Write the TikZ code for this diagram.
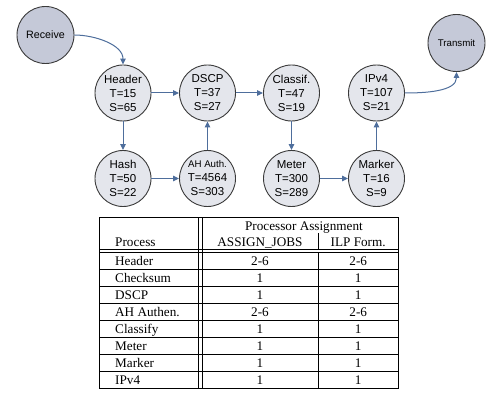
\documentclass[tikz,border=0pt]{standalone}
\usepackage{fontspec}
\setmainfont{Liberation Serif}
\newfontfamily\nodefont{Liberation Sans}
\usetikzlibrary{arrows.meta}
\definecolor{circfill}{HTML}{E4E6EC}
\definecolor{termfill}{HTML}{C5C9D8}
\definecolor{circline}{HTML}{3A3A3A}
\definecolor{arrowcol}{HTML}{4E6E9C}
\begin{document}
\begin{tikzpicture}[x=1pt,y=-1pt,
  proc/.style={circle, draw=circline, fill=circfill, line width=0.9pt, minimum size=56pt, inner sep=0pt, align=center, font=\nodefont\fontsize{11.5}{14}\selectfont},
  term/.style={proc, fill=termfill, minimum size=57pt},
  flow/.style={draw=arrowcol, line width=1pt, -{Triangle[length=6pt,width=5.5pt]}},
  tline/.style={line width=0.6pt},
  cell/.style={font=\fontsize{13.2}{15}\selectfont, inner sep=0pt, anchor=base},
  lcell/.style={cell, anchor=base west}]
\useasboundingbox (0,0) rectangle (490,393);
% nodes
\node[term, font=\nodefont\fontsize{10.7}{13}\selectfont] (rec) at (45.5,35) {Receive};
\node[term, font=\nodefont\fontsize{9.7}{12}\selectfont] (tx) at (456.5,43) {Transmit};
\node[proc] (hdr) at (123,93) {Header\\T=15\\S=65};
\node[proc] (dscp) at (207.5,93) {DSCP\\T=37\\S=27};
\node[proc] (cls) at (291.5,93) {Classif.\\T=47\\S=19};
\node[proc] (ipv) at (376.5,93) {IPv4\\T=107\\S=21};
\node[proc] (hash) at (123,178.5) {Hash\\T=50\\S=22};
\node[proc] (ah) at (207.5,178.5) {{\fontsize{9.7}{14}\selectfont AH Auth.}\\T=4564\\S=303};
\node[proc] (met) at (291.5,178.5) {Meter\\T=300\\S=289};
\node[proc] (mrk) at (376.5,178.5) {Marker\\T=16\\S=9};
% connectors
\draw[flow] (rec.east) to[out=0,in=90,looseness=0.9] (hdr.north);
\draw[flow] (hdr) -- (dscp);
\draw[flow] (dscp) -- (cls);
\draw[flow] (hdr) -- (hash);
\draw[flow] (hash) -- (ah);
\draw[flow] (ah) -- (dscp);
\draw[flow] (cls) -- (met);
\draw[flow] (met) -- (mrk);
\draw[flow] (mrk) -- (ipv);
\draw[flow] (ipv.east) to[out=0,in=-90,looseness=0.9] (tx.south);
% table
\draw[tline] (99.7,217.3) rectangle (398,388.3);
\draw[tline] (198.3,217.3) -- (198.3,388.3);
\draw[tline] (201.8,217.3) -- (201.8,388.3);
\draw[tline] (318.5,233) -- (318.5,249.3);
\draw[tline] (318.5,252.5) -- (318.5,388.3);
\draw[tline] (99.7,249.3) -- (398,249.3);
\draw[tline] (99.7,252.5) -- (398,252.5);
\foreach \y in {269.5,286.4,303.3,320.3,337.2,354.2,371.2} \draw[tline] (99.7,\y) -- (398,\y);
\node[cell] (pa) at (304,230) {Processor Assignment};
\node[lcell] (ph) at (115,246) {Process};
\node[cell] (aj) at (260,246) {ASSIGN\_JOBS};
\node[cell] (ilp) at (358.2,246) {ILP Form.};
\foreach \n/\p/\a/\b [count=\i] in {hd/Header/2-6/2-6, ck/Checksum/1/1, ds/DSCP/1/1, au/AH Authen./2-6/2-6, cl/Classify/1/1, me/Meter/1/1, ma/Marker/1/1, ip/IPv4/1/1}{
  \pgfmathsetmacro{\yb}{252.5+17*\i-4}
  \node[lcell] (p\n) at (115,\yb) {\p};
  \node[cell] (a\n) at (260,\yb) {\a};
  \node[cell] (b\n) at (358.2,\yb) {\b};
}
\end{tikzpicture}
\end{document}
